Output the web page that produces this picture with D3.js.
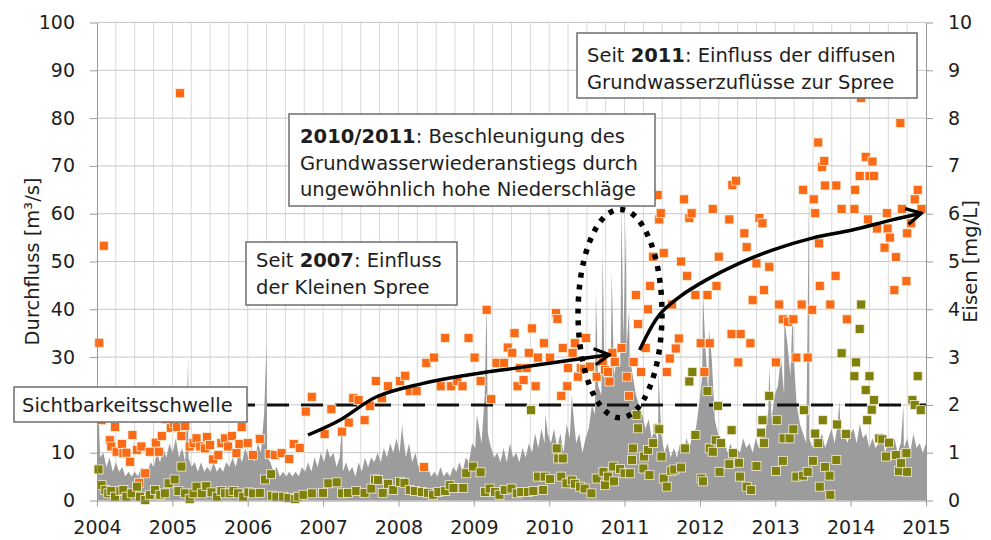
<!DOCTYPE html>
<html>
<head>
<meta charset="utf-8">
<script src="https://cdn.jsdelivr.net/npm/d3@7"></script>
<style>
  body { margin: 0; background: #fff; }
  text { font-family: "DejaVu Sans", Verdana, sans-serif; fill: #1e1e1e; }
</style>
</head>
<body>
<svg id="chart" width="991" height="540"></svg>
<script>

// axis ticks
const years = d3.range(2004, 2016)
const flowTicks = d3.range(0, 101, 10)
const ironTicks = d3.range(0, 11, 1)
const threshold = 2 // mg/L, Sichtbarkeitsschwelle

// discharge [m3/s], semi-monthly, one row per year 2004..2014
const flowSemiMonthly = [
    13, 9, 10, 7, 9, 6, 8, 6, 7, 5, 6, 5, 6, 5, 7, 5, 6, 8, 7, 10, 8, 11, 9, 12,
    10, 13, 9, 11, 8, 9, 7, 8, 6, 8, 6, 7, 6, 8, 6, 7, 6, 8, 7, 9, 7, 10, 8, 11,
    9, 11, 8, 12, 10, 18, 9, 8, 6, 7, 5, 6, 5, 6, 5, 6, 5, 7, 6, 8, 6, 9, 7, 10,
    8, 11, 9, 10, 7, 9, 6, 8, 6, 7, 5, 8, 6, 9, 7, 9, 8, 10, 8, 11, 9, 12, 10, 13,
    10, 14, 9, 12, 8, 10, 7, 8, 6, 7, 5, 6, 5, 7, 5, 6, 5, 7, 6, 8, 6, 9, 8, 12,
    11, 16, 12, 22, 14, 11, 9, 10, 8, 11, 8, 12, 9, 10, 8, 11, 9, 12, 10, 14, 11, 15, 12, 14,
    12, 15, 11, 14, 10, 16, 13, 19, 12, 14, 10, 13, 15, 20, 18, 24, 22, 26, 24, 28, 26, 30, 28, 34,
    32, 30, 26, 22, 20, 18, 15, 17, 13, 15, 12, 14, 10, 12, 9, 11, 9, 12, 10, 13, 11, 14, 15, 20,
    26, 32, 22, 30, 17, 14, 12, 13, 10, 12, 9, 11, 10, 13, 11, 12, 10, 13, 11, 15, 14, 19, 17, 22,
    24, 30, 22, 33, 26, 30, 20, 16, 14, 12, 13, 11, 15, 12, 14, 11, 13, 15, 12, 16, 13, 15, 12, 14,
    15, 12, 16, 13, 14, 11, 13, 11, 12, 14, 10, 12, 11, 13, 10, 12, 11, 13, 10, 14, 11, 12, 10, 12
]

// short discharge peaks [year, m3/s]
const flowPeaks = [
    [2004.01, 24], [2005.21, 30], [2006.25, 33], [2007.25, 16], [2008.05, 16],
    [2009.04, 18], [2009.17, 42], [2009.95, 18], [2010.30, 22], [2010.62, 44],
    [2010.71, 52], [2010.83, 48], [2010.96, 62], [2011.02, 58], [2011.06, 40],
    [2011.45, 27], [2012.04, 44], [2012.12, 36], [2012.92, 28], [2013.12, 38],
    [2013.23, 40], [2013.45, 68], [2013.85, 21], [2014.70, 20]
]

// iron, first station [year, mg/L]
const ironOrange = [
    [2004.03, 3.3], [2004.09, 5.33], [2004.06, 1.68], [2004.17, 1.26], [2004.19, 1.13],
    [2004.24, 1.54], [2004.26, 1.02], [2004.33, 1.18], [2004.35, 0.99], [2004.39, 1.0],
    [2004.44, 0.81], [2004.47, 1.37], [2004.53, 1.06], [2004.56, 0.37], [2004.59, 1.13],
    [2004.64, 0.57], [2004.70, 1.02], [2004.78, 1.21], [2004.82, 1.02], [2004.86, 1.35],
    [2004.92, 1.7], [2004.98, 1.52], [2005.02, 1.62], [2005.06, 1.54], [2005.10, 8.52],
    [2005.12, 1.35], [2005.17, 1.56], [2005.23, 1.13], [2005.28, 1.2], [2005.32, 1.3],
    [2005.37, 1.13], [2005.43, 1.09], [2005.46, 1.33], [2005.50, 1.16], [2005.54, 0.86],
    [2005.61, 0.95], [2005.65, 1.2], [2005.70, 1.3], [2005.74, 1.13], [2005.79, 1.35],
    [2005.85, 0.99], [2005.89, 1.18], [2005.92, 1.54], [2006.00, 1.2], [2006.07, 0.95],
    [2006.16, 1.29], [2006.29, 0.97], [2006.36, 0.95], [2006.45, 0.99], [2006.55, 0.87],
    [2006.61, 1.18], [2006.69, 1.1], [2006.77, 1.86], [2006.85, 2.17], [2007.02, 1.39],
    [2007.11, 1.91], [2007.25, 1.44], [2007.34, 1.63], [2007.40, 2.14], [2007.47, 2.1],
    [2007.55, 1.68], [2007.62, 1.98], [2007.70, 2.5], [2007.78, 2.14], [2007.86, 2.39],
    [2008.02, 2.5], [2008.09, 2.61], [2008.15, 2.29], [2008.24, 2.29], [2008.34, 0.7],
    [2008.37, 2.88], [2008.47, 2.99], [2008.56, 2.39], [2008.62, 3.4], [2008.70, 2.39],
    [2008.78, 2.5], [2008.85, 2.39], [2008.93, 3.4], [2009.01, 2.99], [2009.09, 2.5],
    [2009.17, 3.99], [2009.23, 2.12], [2009.30, 2.88], [2009.40, 2.88], [2009.45, 3.2],
    [2009.51, 3.09], [2009.54, 3.5], [2009.58, 2.39], [2009.61, 2.77], [2009.66, 2.52],
    [2009.70, 2.77], [2009.73, 3.09], [2009.77, 3.6], [2009.82, 2.39], [2009.85, 2.99],
    [2009.93, 3.29], [2010.01, 2.99], [2010.09, 3.92], [2010.11, 3.8], [2010.16, 2.19],
    [2010.18, 3.19], [2010.24, 2.39], [2010.25, 2.77], [2010.31, 3.09], [2010.34, 3.29],
    [2010.38, 2.59], [2010.42, 2.77], [2010.46, 2.75], [2010.49, 3.4], [2010.54, 2.8],
    [2010.63, 2.59], [2010.71, 2.9], [2010.74, 2.73], [2010.78, 2.69], [2010.80, 2.49],
    [2010.84, 3.09], [2010.87, 2.9], [2010.96, 3.19], [2011.03, 2.59], [2011.06, 2.19],
    [2011.12, 2.9], [2011.15, 4.3], [2011.18, 3.69], [2011.22, 2.69], [2011.28, 3.19],
    [2011.31, 4.0], [2011.34, 4.49], [2011.38, 5.1], [2011.44, 6.39], [2011.46, 5.88],
    [2011.48, 6.01], [2011.52, 5.18], [2011.56, 2.69], [2011.60, 2.97], [2011.63, 4.1],
    [2011.68, 3.18], [2011.72, 3.39], [2011.75, 5.0], [2011.79, 6.3], [2011.83, 4.7],
    [2011.86, 5.91], [2011.89, 6.01], [2011.94, 4.3], [2012.01, 3.29], [2012.06, 2.69],
    [2012.10, 4.3], [2012.13, 3.29], [2012.17, 6.1], [2012.22, 4.49], [2012.25, 5.1],
    [2012.39, 5.88], [2012.42, 3.48], [2012.43, 6.6], [2012.48, 6.69], [2012.51, 2.89],
    [2012.54, 3.48], [2012.59, 5.59], [2012.62, 5.3], [2012.67, 3.29], [2012.70, 4.19],
    [2012.75, 4.96], [2012.79, 5.91], [2012.83, 5.8], [2012.85, 4.4], [2012.92, 4.89],
    [2013.01, 2.89], [2013.05, 4.1], [2013.10, 3.79], [2013.17, 3.74], [2013.24, 3.79],
    [2013.28, 2.99], [2013.35, 4.1], [2013.37, 6.5], [2013.43, 2.99], [2013.49, 3.99],
    [2013.51, 6.3], [2013.53, 6.01], [2013.57, 7.49], [2013.58, 5.38], [2013.59, 4.49],
    [2013.62, 6.98], [2013.65, 7.1], [2013.66, 6.59], [2013.73, 4.1], [2013.80, 4.7],
    [2013.81, 6.59], [2013.88, 6.1], [2013.95, 3.79], [2014.05, 6.1], [2014.06, 6.5],
    [2014.12, 6.79], [2014.14, 8.42], [2014.20, 7.19], [2014.23, 5.88], [2014.25, 6.79],
    [2014.29, 7.09], [2014.31, 6.79], [2014.35, 5.69], [2014.45, 5.29], [2014.48, 6.01],
    [2014.49, 5.69], [2014.52, 5.5], [2014.58, 4.4], [2014.60, 5.09], [2014.66, 7.9],
    [2014.68, 6.1], [2014.74, 4.59], [2014.75, 5.59], [2014.80, 5.8], [2014.85, 6.3],
    [2014.89, 6.5], [2014.94, 6.1]
]

// iron, second station [year, mg/L]
const ironGreen = [
    [2004.02, 0.65], [2004.06, 0.32], [2004.11, 0.22], [2004.15, 0.15], [2004.19, 0.2],
    [2004.24, 0.08], [2004.31, 0.2], [2004.35, 0.22], [2004.39, 0.08], [2004.46, 0.15],
    [2004.53, 0.29], [2004.57, 0.08], [2004.64, 0.01], [2004.70, 0.12], [2004.77, 0.22],
    [2004.84, 0.12], [2004.90, 0.15], [2004.95, 0.36], [2005.03, 0.44], [2005.08, 0.2],
    [2005.12, 0.71], [2005.17, 0.15], [2005.23, 0.03], [2005.28, 0.15], [2005.32, 0.29],
    [2005.39, 0.15], [2005.45, 0.3], [2005.52, 0.17], [2005.59, 0.08], [2005.65, 0.2],
    [2005.70, 0.15], [2005.76, 0.15], [2005.81, 0.2], [2005.87, 0.15], [2005.94, 0.08],
    [2006.01, 0.17], [2006.07, 0.15], [2006.16, 0.16], [2006.23, 0.44], [2006.31, 0.55],
    [2006.32, 0.1], [2006.38, 0.08], [2006.47, 0.08], [2006.54, 0.05], [2006.63, 0.03],
    [2006.67, 0.08], [2006.74, 0.12], [2006.85, 0.15], [2007.00, 0.16], [2007.07, 0.36],
    [2007.18, 0.38], [2007.25, 0.15], [2007.33, 0.16], [2007.44, 0.2], [2007.55, 0.16],
    [2007.64, 0.25], [2007.69, 0.44], [2007.73, 0.43], [2007.79, 0.16], [2007.86, 0.35],
    [2007.93, 0.22], [2008.02, 0.39], [2008.08, 0.37], [2008.15, 0.22], [2008.22, 0.2],
    [2008.31, 0.18], [2008.39, 0.16], [2008.46, 0.12], [2008.53, 0.18], [2008.62, 0.2],
    [2008.68, 0.32], [2008.73, 0.26], [2008.86, 0.26], [2008.90, 0.57], [2008.99, 0.71],
    [2009.09, 0.59], [2009.15, 0.18], [2009.21, 0.25], [2009.28, 0.18], [2009.34, 0.12],
    [2009.41, 0.22], [2009.50, 0.25], [2009.57, 0.15], [2009.63, 0.18], [2009.72, 0.18],
    [2009.76, 1.89], [2009.79, 0.2], [2009.85, 0.5], [2009.92, 0.22], [2009.94, 0.5],
    [2010.01, 0.45], [2010.10, 1.09], [2010.12, 0.88], [2010.16, 0.5], [2010.18, 0.88],
    [2010.23, 0.36], [2010.30, 0.42], [2010.34, 0.35], [2010.41, 0.29], [2010.47, 0.25],
    [2010.56, 0.15], [2010.63, 0.46], [2010.72, 0.6], [2010.74, 0.32], [2010.78, 0.5],
    [2010.85, 0.71], [2010.86, 0.4], [2010.94, 0.66], [2011.00, 0.57], [2011.07, 0.57],
    [2011.10, 0.85], [2011.11, 1.09], [2011.16, 1.79], [2011.18, 1.51], [2011.25, 0.67],
    [2011.26, 0.92], [2011.31, 1.06], [2011.33, 0.53], [2011.38, 1.2], [2011.44, 1.51],
    [2011.46, 1.49], [2011.49, 0.92], [2011.52, 0.46], [2011.56, 0.29], [2011.62, 0.62],
    [2011.66, 0.65], [2011.75, 0.69], [2011.80, 1.09], [2011.86, 2.49], [2011.90, 2.69],
    [2011.94, 1.37], [2012.02, 0.46], [2012.04, 0.4], [2012.10, 2.29], [2012.13, 1.09],
    [2012.17, 1.02], [2012.21, 1.26], [2012.24, 1.98], [2012.26, 0.6], [2012.28, 1.2],
    [2012.39, 0.76], [2012.42, 1.47], [2012.44, 0.99], [2012.52, 0.79], [2012.53, 0.5],
    [2012.62, 0.29], [2012.68, 0.22], [2012.75, 0.72], [2012.81, 1.42], [2012.83, 1.68],
    [2012.85, 1.2], [2012.92, 2.19], [2013.01, 0.62], [2013.02, 1.68], [2013.10, 0.83],
    [2013.11, 1.3], [2013.19, 1.3], [2013.24, 1.49], [2013.28, 0.5], [2013.37, 0.52],
    [2013.38, 1.89], [2013.43, 0.6], [2013.50, 0.83], [2013.53, 1.4], [2013.57, 1.2],
    [2013.59, 0.29], [2013.63, 1.68], [2013.66, 0.7], [2013.72, 0.52], [2013.73, 0.12],
    [2013.81, 0.85], [2013.82, 1.59], [2013.88, 3.08], [2013.94, 1.39], [2014.05, 2.6],
    [2014.07, 2.89], [2014.12, 3.59], [2014.14, 4.1], [2014.20, 2.31], [2014.22, 1.68],
    [2014.25, 2.6], [2014.28, 1.9], [2014.31, 2.1], [2014.38, 1.3], [2014.42, 1.28],
    [2014.47, 0.92], [2014.51, 1.21], [2014.60, 0.95], [2014.64, 0.62], [2014.67, 0.78],
    [2014.74, 0.99], [2014.75, 0.6], [2014.82, 2.1], [2014.85, 2.0], [2014.89, 2.6],
    [2014.93, 1.89]
]

// trend arrows and highlighted period [year, mg/L]
const arrow2007 = [[2006.80, 1.37], [2007.22, 1.68], [2007.71, 2.17], [2008.3, 2.44], [2008.9, 2.62],
    [2009.6, 2.78], [2010.3, 2.94], [2010.8, 3.05]]
const arrow2011 = [[2011.2, 3.15], [2011.46, 3.88], [2011.73, 4.26], [2012.08, 4.61], [2012.52, 4.96],
    [2012.96, 5.24], [2013.49, 5.49], [2014.02, 5.66], [2014.55, 5.87], [2014.94, 6.01]]
const wetPeriod = { year: 2010.94, iron: 3.91, halfYears: 0.557, halfIron: 2.18 }

// annotation texts, runs of [text, bold]
const noteThreshold = [[['Sichtbarkeitsschwelle', false]]]
const note2007 = [
    [['Seit ', false], ['2007', true], [': Einfluss', false]],
    [['der Kleinen Spree', false]]
]
const note2010 = [
    [['2010/2011', true], [': Beschleunigung des', false]],
    [['Grundwasserwiederanstiegs durch', false]],
    [['ungewöhnlich hohe Niederschläge', false]]
]
const note2011 = [
    [['Seit ', false], ['2011', true], [': Einfluss der diffusen', false]],
    [['Grundwasserzuflüsse zur Spree', false]]
]

const svg = d3.select('#chart')
const plotLeft = 97, plotRight = 926, plotTop = 22.5, plotBottom = 500.5

const x = d3.scaleLinear().domain([2004, 2015]).range([plotLeft, plotRight])
const yFlow = d3.scaleLinear().domain([0, 100]).range([plotBottom, plotTop])
const yIron = d3.scaleLinear().domain([0, 10]).range([plotBottom, plotTop])

svg.append('rect').attr('width', 991).attr('height', 540).attr('fill', '#fff')

svg.append('clipPath').attr('id', 'plot')
    .append('rect')
    .attr('x', plotLeft).attr('y', plotTop)
    .attr('width', plotRight - plotLeft).attr('height', plotBottom - plotTop)

// grid
const grid = svg.append('g')
grid.selectAll('line.v').data(d3.range(2004.25, 2015, 0.25))
    .enter().append('line')
    .attr('x1', d => x(d)).attr('x2', d => x(d))
    .attr('y1', plotTop).attr('y2', plotBottom)
    .attr('stroke', '#d8d8d8').attr('stroke-width', 1)
grid.selectAll('line.h').data(flowTicks.slice(1))
    .enter().append('line')
    .attr('x1', plotLeft).attr('x2', plotRight)
    .attr('y1', d => yFlow(d)).attr('y2', d => yFlow(d))
    .attr('stroke', '#c8c8c8').attr('stroke-width', 1)

// discharge area
const flowPoints = flowSemiMonthly
    .map((v, i) => [2004 + i * 11 / (flowSemiMonthly.length - 1), v])
    .concat(flowPeaks)
    .sort((a, b) => a[0] - b[0])

const area = d3.area()
    .x(d => x(d[0]))
    .y0(yFlow(0))
    .y1(d => yFlow(d[1]))

svg.append('path')
    .datum(flowPoints)
    .attr('clip-path', 'url(#plot)')
    .attr('d', area)
    .attr('fill', '#9c9c9c')

// visibility threshold
svg.append('line')
    .attr('x1', plotLeft).attr('x2', plotRight)
    .attr('y1', yIron(threshold)).attr('y2', yIron(threshold))
    .attr('stroke', '#111').attr('stroke-width', 3)
    .attr('stroke-dasharray', '22 12')

// iron samples
const drawSquares = (data, color) => {
    svg.append('g').selectAll('rect').data(data)
        .enter().append('rect')
        .attr('x', d => x(d[0]) - 4.5)
        .attr('y', d => yIron(d[1]) - 4.5)
        .attr('width', 9).attr('height', 9)
        .attr('fill', color)
        .attr('stroke', '#f4f0dc').attr('stroke-width', 0.8)
}
drawSquares(ironOrange, '#fb6a17')
drawSquares(ironGreen, '#7f810c')

// axes
const styleAxis = g => {
    g.select('.domain').attr('stroke', '#9a9a9a')
    g.selectAll('.tick line').attr('stroke', '#9a9a9a')
    g.selectAll('.tick text').style('font-size', '19px').attr('fill', '#1e1e1e')
}

// the 20 label sits behind the threshold box, as in the original
svg.append('g')
    .attr('transform', `translate(${plotLeft},0)`)
    .call(d3.axisLeft(yFlow).tickValues(flowTicks).tickSize(7).tickPadding(15).tickSizeOuter(0)
        .tickFormat(d => d === 20 ? '' : d))
    .call(styleAxis)

svg.append('g')
    .attr('transform', `translate(${plotRight},0)`)
    .call(d3.axisRight(yIron).tickValues(ironTicks).tickSize(7).tickPadding(15).tickSizeOuter(0))
    .call(styleAxis)

svg.append('g')
    .attr('transform', `translate(0,${plotBottom})`)
    .call(d3.axisBottom(x).tickValues(years).tickFormat(d3.format('d')).tickSize(6).tickPadding(14).tickSizeOuter(0))
    .call(styleAxis)

svg.append('text')
    .attr('transform', `translate(32,${(plotTop + plotBottom) / 2}) rotate(-90)`)
    .attr('text-anchor', 'middle').attr('dominant-baseline', 'central')
    .style('font-size', '19.5px')
    .text('Durchfluss [m³/s]')

svg.append('text')
    .attr('transform', `translate(970,${(plotTop + plotBottom) / 2}) rotate(-90)`)
    .attr('text-anchor', 'middle').attr('dominant-baseline', 'central')
    .style('font-size', '19.5px')
    .text('Eisen [mg/L]')

// arrows and ellipse
const defs = svg.append('defs')
defs.append('marker')
    .attr('id', 'head')
    .attr('viewBox', '0 0 20 20')
    .attr('refX', 18).attr('refY', 10)
    .attr('markerWidth', 20).attr('markerHeight', 20)
    .attr('markerUnits', 'userSpaceOnUse')
    .attr('orient', 'auto')
    .append('path')
    .attr('d', 'M3,2 L18,10 L3,18')
    .attr('fill', 'none').attr('stroke', '#000').attr('stroke-width', 3.2)

const trend = d3.line()
    .x(d => x(d[0]))
    .y(d => yIron(d[1]))
    .curve(d3.curveCatmullRom)

for (const arrow of [arrow2007, arrow2011]) {
    svg.append('path')
        .datum(arrow)
        .attr('d', trend)
        .attr('fill', 'none')
        .attr('stroke', '#000').attr('stroke-width', 3.5)
        .attr('marker-end', 'url(#head)')
}

svg.append('ellipse')
    .attr('cx', x(wetPeriod.year))
    .attr('cy', yIron(wetPeriod.iron))
    .attr('rx', x(wetPeriod.year + wetPeriod.halfYears) - x(wetPeriod.year))
    .attr('ry', yIron(0) - yIron(wetPeriod.halfIron))
    .attr('fill', 'none')
    .attr('stroke', '#000').attr('stroke-width', 5.5)
    .attr('stroke-dasharray', '5 7')

// text boxes
const drawNote = (lines, box, tx, firstLine, lineGap) => {
    const g = svg.append('g')
    g.append('rect')
        .attr('x', box[0]).attr('y', box[1])
        .attr('width', box[2]).attr('height', box[3])
        .attr('fill', '#fff')
        .attr('stroke', '#6e6e6e').attr('stroke-width', 1.5)
    lines.forEach((runs, i) => {
        const t = g.append('text')
            .attr('x', tx).attr('y', firstLine + i * lineGap)
            .attr('dominant-baseline', 'central')
            .style('font-size', '19.5px')
        for (const [txt, bold] of runs) {
            t.append('tspan')
                .style('font-weight', bold ? 'bold' : 'normal')
                .text(txt)
        }
    })
}

drawNote(noteThreshold, [14, 387, 233, 35], 22, 405, 0)
drawNote(note2007, [246, 242, 211, 63], 256, 260, 27)
drawNote(note2010, [289, 114, 366, 92], 300, 136, 26.5)
drawNote(note2011, [577, 33, 340, 65], 587, 55, 27)

</script>
</body>
</html>
